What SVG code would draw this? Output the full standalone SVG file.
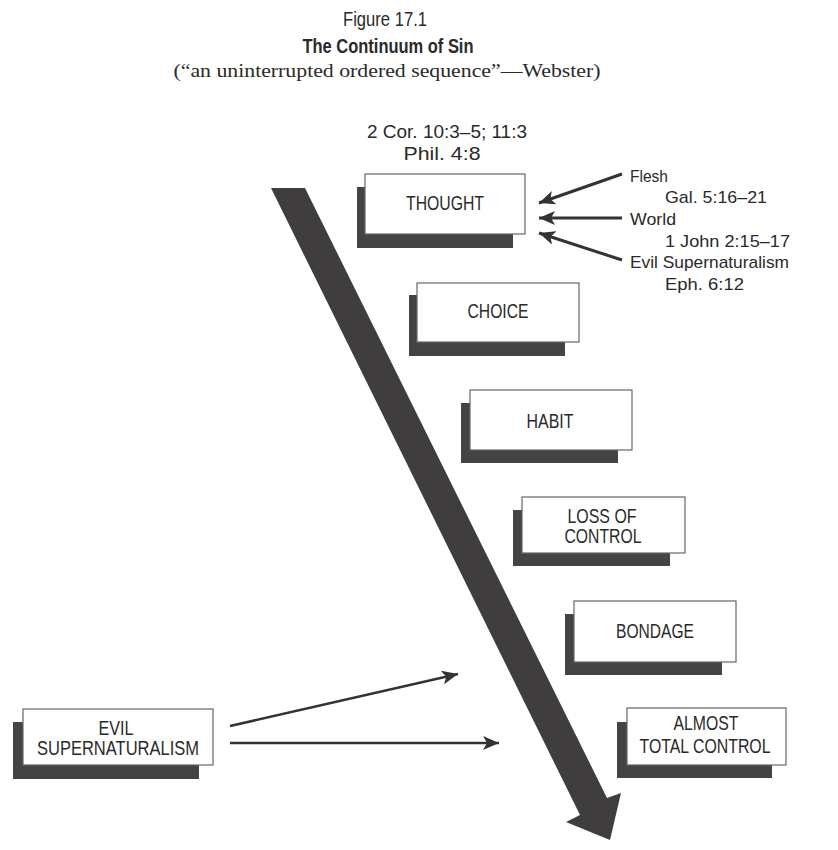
<svg xmlns="http://www.w3.org/2000/svg" width="838" height="850" viewBox="0 0 838 850">
<defs>
<style>
.t{font-family:"Liberation Sans",Arial,sans-serif;fill:#2a2a2a;}
.box{fill:#ffffff;stroke:#666;stroke-width:1.2;}
.sh{fill:#454343;}
.bl{font-size:20px;text-anchor:middle;}
.rl{font-size:17px;}
.ln{stroke:#333;fill:none;}
</style>
<marker id="ah" markerUnits="userSpaceOnUse" markerWidth="18" markerHeight="14" refX="16" refY="7" orient="auto">
<path d="M0,0 L16,7 L0,14 L4,7 z" fill="#333"/>
</marker>
</defs>
<rect width="838" height="850" fill="#fff"/>
<g id="title">
<text class="t" x="385" y="26" font-size="20" text-anchor="middle" textLength="84" lengthAdjust="spacingAndGlyphs">Figure 17.1</text>
<text class="t" x="388" y="53" font-size="20" font-weight="bold" text-anchor="middle" textLength="171" lengthAdjust="spacingAndGlyphs">The Continuum of Sin</text>
<text x="387" y="77" font-size="19" text-anchor="middle" textLength="427" lengthAdjust="spacingAndGlyphs" style="font-family:'Liberation Serif','Times New Roman',serif;fill:#2a2a2a">(“an uninterrupted ordered sequence”—Webster)</text>
</g>
<g id="continuum-arrow">
<polygon points="271,188 305,188 607,798 621,793 610,840 566,822 580,815" fill="#3f3d3d"/>
</g>
<g id="refs-thought">
<text class="t" x="447" y="138" font-size="18.5" text-anchor="middle" textLength="160" lengthAdjust="spacingAndGlyphs">2 Cor. 10:3–5; 11:3</text>
<text class="t" x="442" y="160" font-size="18.5" text-anchor="middle" textLength="77" lengthAdjust="spacingAndGlyphs">Phil. 4:8</text>
</g>
<g id="node-thought">
<rect class="sh" x="357" y="187" width="156" height="61"/>
<rect class="box" x="365" y="174" width="160" height="60"/>
<text class="t bl" x="445" y="210" textLength="78" lengthAdjust="spacingAndGlyphs">THOUGHT</text>
</g>
<g id="node-choice">
<rect class="sh" x="409" y="295" width="156" height="61"/>
<rect class="box" x="417" y="283" width="162" height="59"/>
<text class="t bl" x="498" y="318" textLength="61" lengthAdjust="spacingAndGlyphs">CHOICE</text>
</g>
<g id="node-habit">
<rect class="sh" x="461" y="403" width="157" height="60"/>
<rect class="box" x="470" y="390" width="162" height="60"/>
<text class="t bl" x="550" y="428" textLength="47" lengthAdjust="spacingAndGlyphs">HABIT</text>
</g>
<g id="node-loss">
<rect class="sh" x="513" y="510" width="157" height="56"/>
<rect class="box" x="522" y="497" width="163" height="56"/>
<text class="t bl" x="602" y="523" textLength="69" lengthAdjust="spacingAndGlyphs">LOSS OF</text>
<text class="t bl" x="603" y="543" textLength="77" lengthAdjust="spacingAndGlyphs">CONTROL</text>
</g>
<g id="node-bondage">
<rect class="sh" x="565" y="614" width="157" height="61"/>
<rect class="box" x="574" y="601" width="162" height="61"/>
<text class="t bl" x="655" y="638" textLength="78" lengthAdjust="spacingAndGlyphs">BONDAGE</text>
</g>
<g id="node-almost">
<rect class="sh" x="617" y="722" width="155" height="56"/>
<rect class="box" x="627" y="708" width="159" height="57"/>
<text class="t bl" x="706" y="730" textLength="65" lengthAdjust="spacingAndGlyphs">ALMOST</text>
<text class="t bl" x="705" y="753" textLength="131" lengthAdjust="spacingAndGlyphs">TOTAL CONTROL</text>
</g>
<g id="node-evil">
<rect class="sh" x="13" y="722" width="186" height="57"/>
<rect class="box" x="23" y="709" width="190" height="56"/>
<text class="t bl" x="116" y="735" textLength="35" lengthAdjust="spacingAndGlyphs">EVIL</text>
<text class="t bl" x="118" y="755" textLength="162" lengthAdjust="spacingAndGlyphs">SUPERNATURALISM</text>
</g>
<g id="influences">
<text class="t rl" x="630" y="182" textLength="38" lengthAdjust="spacingAndGlyphs">Flesh</text>
<text class="t rl" x="665" y="203" textLength="102" lengthAdjust="spacingAndGlyphs">Gal. 5:16–21</text>
<text class="t rl" x="630" y="225" textLength="46" lengthAdjust="spacingAndGlyphs">World</text>
<text class="t rl" x="665" y="247" textLength="125" lengthAdjust="spacingAndGlyphs">1 John 2:15–17</text>
<text class="t rl" x="630" y="268" textLength="159" lengthAdjust="spacingAndGlyphs">Evil Supernaturalism</text>
<text class="t rl" x="665" y="290" textLength="79" lengthAdjust="spacingAndGlyphs">Eph. 6:12</text>
</g>
<g id="connectors">
<line class="ln" x1="622" y1="174" x2="539" y2="203" stroke-width="3" marker-end="url(#ah)"/>
<line class="ln" x1="622" y1="218" x2="539" y2="218" stroke-width="3" marker-end="url(#ah)"/>
<line class="ln" x1="622" y1="260" x2="539" y2="233" stroke-width="3" marker-end="url(#ah)"/>
<line class="ln" x1="230" y1="726" x2="458" y2="674" stroke-width="2.6" marker-end="url(#ah)"/>
<line class="ln" x1="230" y1="743" x2="499" y2="743" stroke-width="2.6" marker-end="url(#ah)"/>
</g>
</svg>
